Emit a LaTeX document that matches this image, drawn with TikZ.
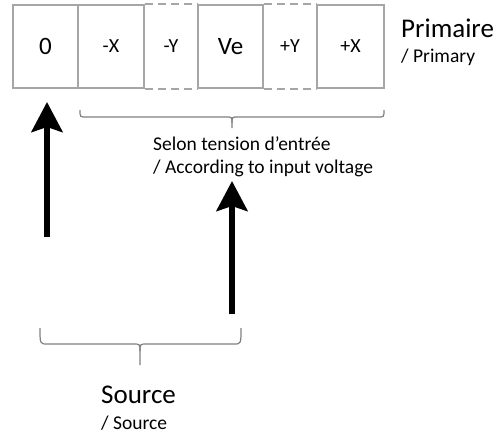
\documentclass[tikz,border=0pt]{standalone}
\usepackage{fontspec}
\setmainfont{Carlito}
\usetikzlibrary{arrows.meta}
\definecolor{boxgray}{HTML}{A6A6A6}
\definecolor{bracegray}{HTML}{7F7F7F}
\tikzset{
  cell/.style={draw=boxgray, line width=1.8pt, minimum height=83pt, inner sep=0pt, font=\fontsize{20}{24}\selectfont},
  opencell/.style={minimum height=83pt, inner sep=0pt, font=\fontsize{20}{24}\selectfont},
  bigtxt/.style={font=\fontsize{25}{30}\selectfont},
  dashedge/.style={draw=boxgray, line width=1.8pt, dash pattern=on 8pt off 5pt},
  bracecurve/.style={draw=bracegray, line width=1.2pt},
  bigarrow/.style={line width=6pt, -{Stealth[length=30pt,width=31pt,inset=5pt]}},
  lbl/.style={inner sep=0pt, anchor=base west},
  biglbl/.style={lbl, font=\fontsize{27}{32}\selectfont},
  smalllbl/.style={lbl, font=\fontsize{19.5}{24}\selectfont}
}
\begin{document}
\begin{tikzpicture}[x=1pt,y=-1pt]
\useasboundingbox (0,0) rectangle (502,434);
% cells
\node[cell, bigtxt, minimum width=65pt] (c0) at (45.5,46.5) {0};
\node[cell, minimum width=66pt] (cmx) at (111,46.5) {-X};
\node[opencell, minimum width=54pt] (cmy) at (171,46.5) {-Y};
\node[cell, bigtxt, minimum width=65pt] (cve) at (230.5,46.5) {Ve};
\node[opencell, minimum width=54pt] (cpy) at (290,46.5) {+Y};
\node[cell, minimum width=67pt] (cpx) at (350.5,46.5) {+X};
\draw[dashedge] (cmx.north east) -- (cve.north west);
\draw[dashedge] (cmx.south east) -- (cve.south west);
\draw[dashedge] (cve.north east) -- (cpx.north west);
\draw[dashedge] (cve.south east) -- (cpx.south west);
% labels
\node[biglbl] (prim) at (401,37) {Primaire};
\node[smalllbl] (primen) at (401,62) {/ Primary};
\node[smalllbl] (selon) at (153,150) {Selon tension d’entrée};
\node[smalllbl] (accord) at (153,173) {/ According to input voltage};
\node[biglbl] (src) at (101,403) {Source};
\node[smalllbl] (srcen) at (101,429) {/ Source};
% top brace
\coordinate (tbl) at (80,110);
\coordinate (tbr) at (384,110);
\coordinate (tbm) at (232,128);
\draw[bracecurve] (tbl) .. controls (80,117) .. (86,117) -- (226,117) .. controls (232,117) .. (232,123) -- (tbm);
\draw[bracecurve] (tbr) .. controls (384,117) .. (378,117) -- (238,117) .. controls (232,117) .. (232,123);
% bottom brace
\coordinate (bbl) at (40,328);
\coordinate (bbr) at (241,328);
\coordinate (bbm) at (140,365);
\draw[bracecurve] (bbl) .. controls (40,344) .. (47,344) -- (133,344) .. controls (140,344) .. (140,351) -- (bbm);
\draw[bracecurve] (bbr) .. controls (241,344) .. (234,344) -- (147,344) .. controls (140,344) .. (140,351);
% arrows
\coordinate (a1s) at (47,237);
\coordinate (a1e) at (47,102);
\coordinate (a2s) at (232,314);
\coordinate (a2e) at (232,181);
\draw[bigarrow] (a1s) -- (a1e);
\draw[bigarrow] (a2s) -- (a2e);
\end{tikzpicture}
\end{document}
